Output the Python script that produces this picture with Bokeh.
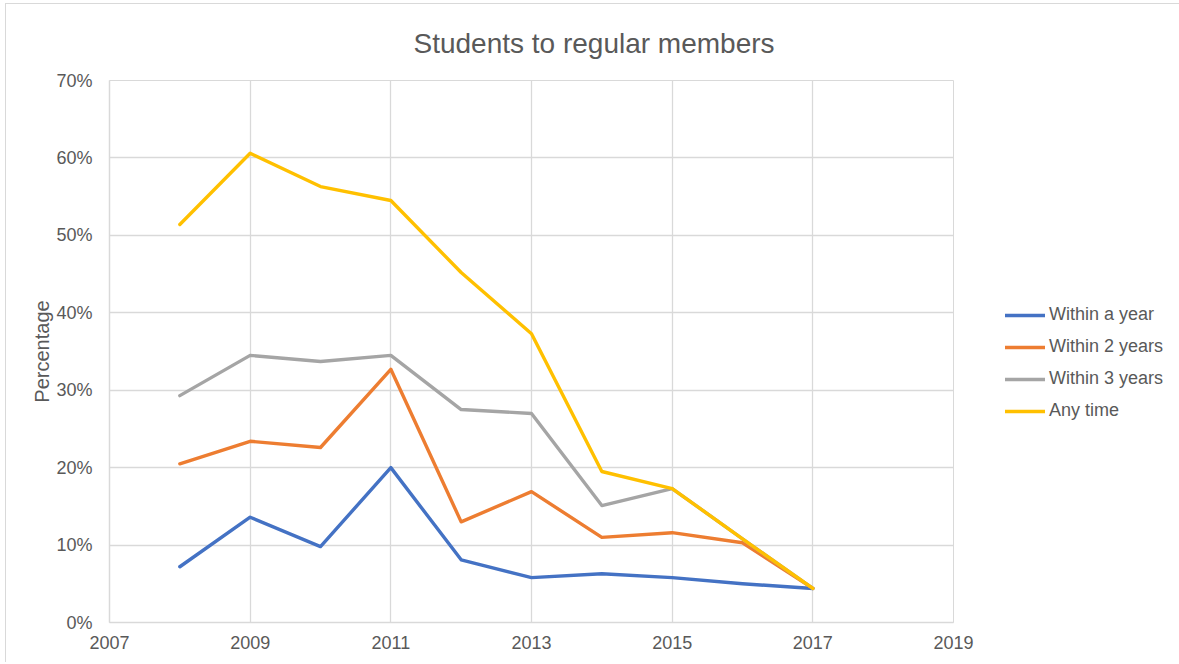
from bokeh.plotting import figure
from bokeh.models import Legend, LegendItem, NumeralTickFormatter, FixedTicker, Range1d
from bokeh.embed import file_html
from bokeh.resources import INLINE

years = [2008, 2009, 2010, 2011, 2012, 2013, 2014, 2015, 2016, 2017]
within_year = [7.2, 13.6, 9.8, 20.0, 8.1, 5.8, 6.3, 5.8, 5.0, 4.4]
within_2_years = [20.5, 23.4, 22.6, 32.7, 13.0, 16.9, 11.0, 11.6, 10.3, 4.4]
within_3_years = [29.3, 34.5, 33.7, 34.5, 27.5, 27.0, 15.1, 17.3, 10.8, 4.4]
any_time = [51.4, 60.6, 56.3, 54.5, 45.2, 37.3, 19.5, 17.3, 10.8, 4.4]

series_names = ["Within a year", "Within 2 years", "Within 3 years", "Any time"]
series_values = [within_year, within_2_years, within_3_years, any_time]
colors = ["#4472C4", "#ED7D31", "#A5A5A5", "#FFC000"]

x_ticks = [2007, 2009, 2011, 2013, 2015, 2017, 2019]
y_ticks = [0, 0.1, 0.2, 0.3, 0.4, 0.5, 0.6, 0.7]

FONT = "Liberation Sans"
TXT = "#595959"
GRID = "#d9d9d9"

p = figure(frame_width=844, frame_height=542,
           min_border_left=103, min_border_top=60, min_border_right=225, min_border_bottom=40,
           x_range=Range1d(2007, 2019), y_range=Range1d(0, 0.7),
           output_backend="svg", toolbar_location=None, tools="")
p.styles = {"border": "1px solid #d9d9d9", "border-bottom": "none", "border-right": "none",
            "margin-left": "5px", "margin-top": "3px"}
p.outline_line_color = GRID
p.outline_line_width = 1

p.title.text = "Students to regular members"
p.title.align = "left"
p.title.offset = 304
p.title.vertical_align = "bottom"
p.title.text_font = FONT
p.title.text_font_size = "28px"
p.title.text_font_style = "normal"
p.title.text_color = TXT
p.title.standoff = 43

p.xaxis.ticker = FixedTicker(ticks=x_ticks)
p.yaxis.ticker = FixedTicker(ticks=y_ticks)
p.yaxis.formatter = NumeralTickFormatter(format="0%")
for ax in [p.xaxis[0], p.yaxis[0]]:
    ax.axis_line_color = GRID
    ax.axis_line_width = 1.5
    ax.major_tick_line_color = None
    ax.minor_tick_line_color = None
    ax.major_label_text_font = FONT
    ax.major_label_text_font_size = "18px"
    ax.major_label_text_color = TXT
p.xaxis.major_label_standoff = 7
p.yaxis.major_label_standoff = 11
p.yaxis.axis_label = "Percentage"
p.yaxis.axis_label_text_font = FONT
p.yaxis.axis_label_text_font_size = "20px"
p.yaxis.axis_label_text_font_style = "normal"
p.yaxis.axis_label_text_color = TXT
p.yaxis.axis_label_standoff = 0

p.xgrid.ticker = FixedTicker(ticks=x_ticks)
p.ygrid.ticker = FixedTicker(ticks=y_ticks)
p.xgrid.grid_line_color = GRID
p.ygrid.grid_line_color = GRID
p.xgrid.grid_line_width = 1.3
p.ygrid.grid_line_width = 1.3

items = []
for name, vals, c in zip(series_names, series_values, colors):
    r = p.line(years, [v / 100 for v in vals], line_color=c, line_width=3.4,
               line_join="round", line_cap="round")
    items.append(LegendItem(label=name, renderers=[r]))

legend = Legend(items=items, location=(52, 201), orientation="vertical",
                glyph_width=40, glyph_height=20, label_height=20, spacing=11,
                label_standoff=4, padding=0, margin=0,
                border_line_color=None, background_fill_alpha=0,
                label_text_font=FONT, label_text_font_size="18px",
                label_text_color=TXT, label_text_baseline="middle")
p.add_layout(legend, "right")

open("out.html", "w").write(file_html(p, INLINE))
